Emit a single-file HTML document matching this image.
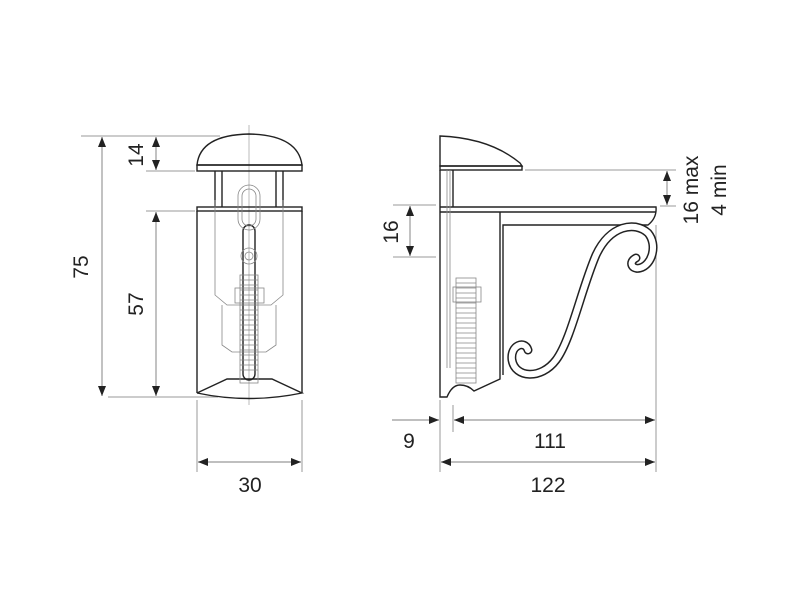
<!DOCTYPE html>
<html><head><style>
html,body{margin:0;padding:0;background:#fff;}
svg{display:block;}
text{font-family:"Liberation Sans",Arial,sans-serif;font-size:21px;fill:#222;}
</style></head><body>
<svg width="800" height="600" viewBox="0 0 800 600" xmlns="http://www.w3.org/2000/svg">
<defs>
<marker id="a" viewBox="0 0 10 10" refX="10" refY="5" markerWidth="10" markerHeight="10" markerUnits="userSpaceOnUse" orient="auto-start-reverse"><path d="M0,1 L10,5 L0,9 Z" fill="#222"/></marker>
</defs>
<g stroke="#999" stroke-width="1" fill="none">
<line x1="81" y1="136" x2="220" y2="136"/>
<line x1="146" y1="171" x2="195" y2="171"/>
<line x1="146" y1="211" x2="195" y2="211"/>
<line x1="108" y1="397" x2="218" y2="397"/>
<line x1="197" y1="400" x2="197" y2="472"/>
<line x1="302" y1="400" x2="302" y2="472"/>
<line x1="249" y1="125" x2="249" y2="405" stroke="#bbb"/>
<line x1="393" y1="205" x2="436" y2="205"/>
<line x1="393" y1="257" x2="436" y2="257"/>
<line x1="525" y1="170" x2="676" y2="170"/>
<line x1="660" y1="206" x2="676" y2="206"/>
<line x1="440" y1="400" x2="440" y2="472"/>
<line x1="453" y1="405" x2="453" y2="432"/>
<line x1="656" y1="225" x2="656" y2="472"/>
</g>
<g stroke="#999" stroke-width="1.2" fill="none">
<line x1="102" y1="137" x2="102" y2="396" marker-start="url(#a)" marker-end="url(#a)"/>
<line x1="156" y1="137" x2="156" y2="170" marker-start="url(#a)" marker-end="url(#a)"/>
<line x1="156" y1="212" x2="156" y2="396" marker-start="url(#a)" marker-end="url(#a)"/>
<line x1="198" y1="462" x2="301" y2="462" marker-start="url(#a)" marker-end="url(#a)"/>
<line x1="410" y1="206" x2="410" y2="256" marker-start="url(#a)" marker-end="url(#a)"/>
<line x1="667" y1="171" x2="667" y2="205" marker-start="url(#a)" marker-end="url(#a)"/>
<line x1="392" y1="420" x2="439" y2="420" marker-end="url(#a)"/>
<line x1="454" y1="420" x2="655" y2="420" marker-start="url(#a)" marker-end="url(#a)"/>
<line x1="441" y1="462" x2="655" y2="462" marker-start="url(#a)" marker-end="url(#a)"/>
</g>
<text x="88" y="267" transform="rotate(-90 88 267)" text-anchor="middle">75</text>
<text x="143" y="155" transform="rotate(-90 143 155)" text-anchor="middle">14</text>
<text x="143" y="304" transform="rotate(-90 143 304)" text-anchor="middle">57</text>
<text x="250" y="492" text-anchor="middle">30</text>
<text x="398" y="232" transform="rotate(-90 398 232)" text-anchor="middle">16</text>
<text x="698" y="190" transform="rotate(-90 698 190)" text-anchor="middle">16 max</text>
<text x="726" y="190" transform="rotate(-90 726 190)" text-anchor="middle">4 min</text>
<text x="409" y="448" text-anchor="middle">9</text>
<text x="550" y="448" text-anchor="middle">111</text>
<text x="548" y="492" text-anchor="middle">122</text>

<g stroke="#222" stroke-width="1.4" fill="none">
<path d="M197,165 Q200,135 249,134 Q298,135 302,165 Z"/>
<rect x="197" y="165" width="105" height="6"/>
<line x1="215" y1="171" x2="215" y2="207"/><line x1="222" y1="171" x2="222" y2="207"/>
<line x1="276" y1="171" x2="276" y2="207"/><line x1="283" y1="171" x2="283" y2="207"/>
<rect x="197" y="207" width="105" height="4"/>
<line x1="197" y1="211" x2="197" y2="393"/><line x1="302" y1="211" x2="302" y2="393"/>
<path d="M197,393 L227,379 L272,379 L302,393 Q249,404 197,393"/>
<rect x="243" y="225" width="12" height="155" rx="6"/>
</g>
<g stroke="#888" stroke-width="0.8" fill="none">
<rect x="238" y="185" width="22" height="45" rx="11"/>
<rect x="242" y="189" width="14" height="37" rx="7"/>
<circle cx="249" cy="256" r="8"/><circle cx="249" cy="256" r="4"/>
<path d="M215,200 L215,295 L227,305 L271,305 L283,295 L283,200"/>
<path d="M222,305 L222,345 L232,352 L266,352 L276,345 L276,305"/>
<rect x="235" y="288" width="29" height="15"/>
<rect x="240" y="275" width="18" height="108"/>
<path d="M240,280 H258 M240,285 H258 M240,290 H258 M240,295 H258 M240,300 H258 M240,305 H258 M240,310 H258 M240,315 H258 M240,320 H258 M240,325 H258 M240,330 H258 M240,335 H258 M240,340 H258 M240,345 H258 M240,350 H258 M240,355 H258 M240,360 H258 M240,365 H258 M240,370 H258"/>
</g>

<g stroke="#222" stroke-width="1.4" fill="none">
<path d="M440,166 L440,136 Q490,138 520,163 L522,166 Z"/>
<rect x="440" y="166" width="82" height="4"/>
<line x1="453" y1="170" x2="453" y2="207"/>
<path d="M440,170 L440,397 L447,397 Q452,385 460,385 Q468,385 474,391 L500,379 L500,212"/>
<path d="M440,207 L656,207 Q657,218 648,225 L503,225 L503,375"/>
<line x1="440" y1="212" x2="656" y2="212"/>
</g>
<path d="M636,258 C628,262 632,270 640,268 C652,265 658,245 648,233 C635,221 610,225 596,255 C581,290 571,340 556,360 C541,380 515,378 512,360 C510,345 525,340 528,350" stroke="#222" stroke-width="9" fill="none" stroke-linecap="round"/>
<path d="M636,258 C628,262 632,270 640,268 C652,265 658,245 648,233 C635,221 610,225 596,255 C581,290 571,340 556,360 C541,380 515,378 512,360 C510,345 525,340 528,350" stroke="#fff" stroke-width="6" fill="none" stroke-linecap="round"/>
<g stroke="#888" stroke-width="0.8" fill="none">
<line x1="447" y1="170" x2="447" y2="368"/><line x1="450" y1="170" x2="450" y2="368"/>
<rect x="456" y="278" width="20" height="105"/>
<rect x="453" y="287" width="28" height="15"/>
<path d="M456,283 H476 M456,288 H476 M456,293 H476 M456,298 H476 M456,303 H476 M456,308 H476 M456,313 H476 M456,318 H476 M456,323 H476 M456,328 H476 M456,333 H476 M456,338 H476 M456,343 H476 M456,348 H476 M456,353 H476 M456,358 H476 M456,363 H476 M456,368 H476 M456,373 H476 M456,378 H476"/>
</g>
</svg>
</body></html>
